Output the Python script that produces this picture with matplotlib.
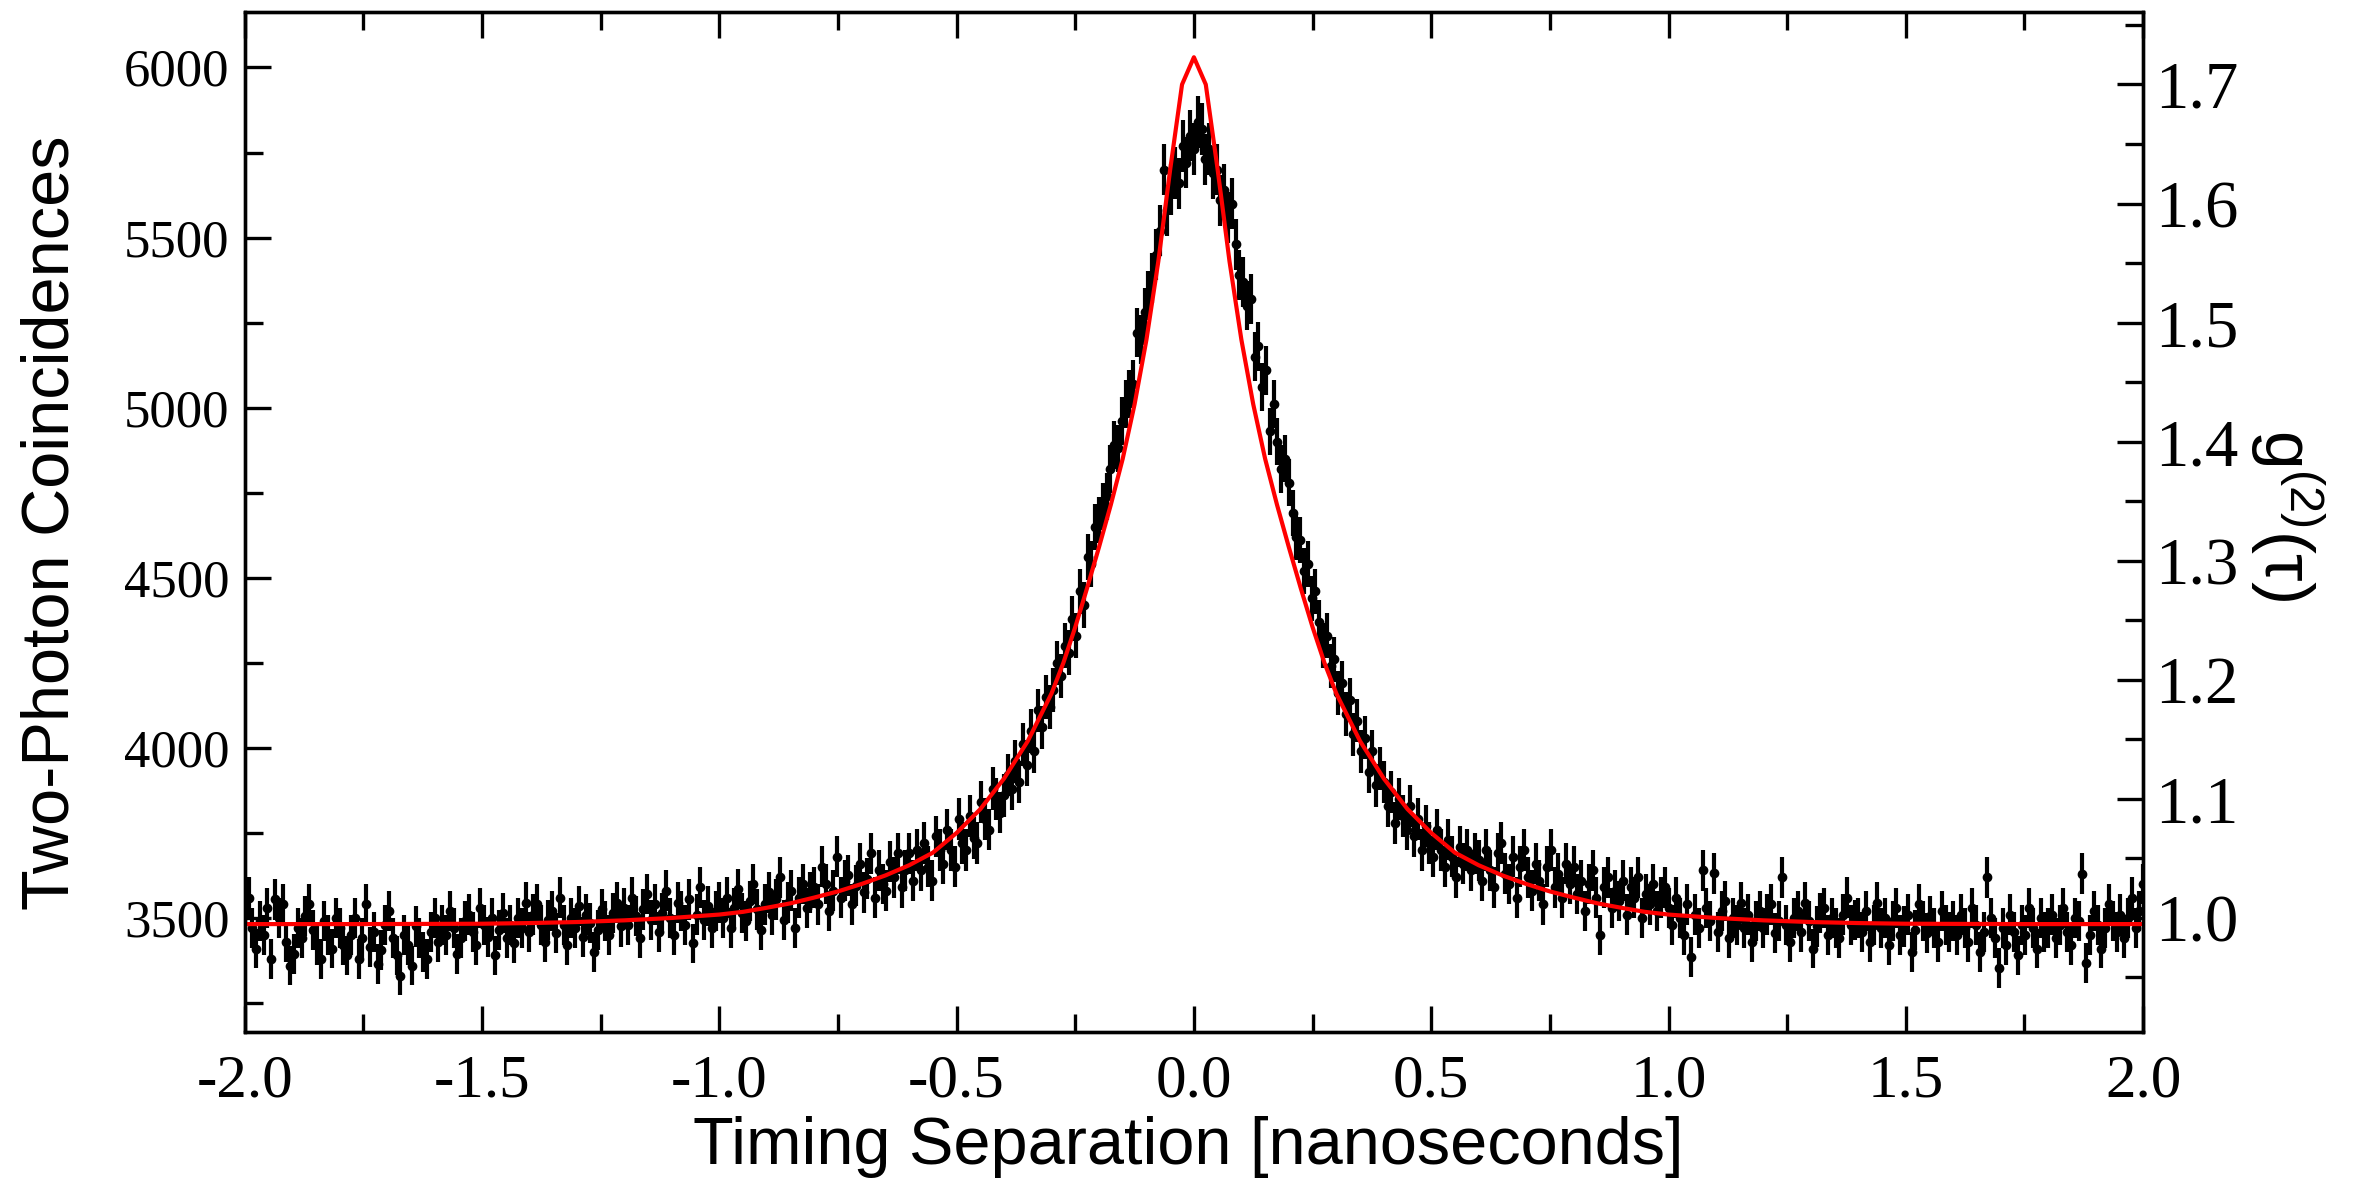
import numpy as np
import matplotlib
matplotlib.use("Agg")
import matplotlib.pyplot as plt
from matplotlib.ticker import MultipleLocator

plt.rcParams['axes.unicode_minus'] = False
plt.rcParams['mathtext.fontset'] = 'custom'
plt.rcParams['mathtext.rm'] = 'Liberation Sans'
plt.rcParams['mathtext.it'] = 'Liberation Sans:italic'

# timing bins (ns), 8 ps wide
t = np.linspace(-2.0, 2.0, 501)

# two-photon coincidences per bin (25 bins per row = 0.2 ns)
counts = [
    3520, 3560, 3470, 3410, 3490, 3450, 3530, 3380, 3555, 3500, 3540, 3430, 3360, 3395, 3470, 3440, 3505, 3540, 3465, 3420, 3380, 3490, 3450, 3410, 3500,
    3470, 3420, 3390, 3450, 3500, 3380, 3440, 3540, 3415, 3460, 3365, 3405, 3480, 3520, 3440, 3390, 3330, 3450, 3420, 3360, 3475, 3440, 3400, 3380, 3460,
    3500, 3430, 3480, 3450, 3520, 3470, 3395, 3440, 3490, 3510, 3460, 3420, 3530, 3480, 3445, 3500, 3390, 3465, 3515, 3440, 3480, 3425, 3500, 3470, 3545,
    3460, 3510, 3540, 3480, 3430, 3495, 3520, 3455, 3560, 3480, 3420, 3500, 3470, 3535, 3445, 3510, 3485, 3400, 3465, 3525, 3490, 3450, 3515, 3545, 3475,
    3530, 3480, 3560, 3505, 3440, 3525, 3570, 3495, 3540, 3460, 3515, 3580, 3500, 3450, 3545, 3520, 3480, 3555, 3425, 3510, 3590, 3495, 3535, 3470, 3520,
    3545, 3500, 3560, 3470, 3530, 3585, 3515, 3490, 3550, 3600, 3525, 3465, 3540, 3575, 3510, 3555, 3620, 3495, 3545, 3580, 3470, 3560, 3600, 3530, 3575,
    3590, 3540, 3650, 3600, 3520, 3580, 3680, 3560, 3610, 3625, 3540, 3595, 3660, 3575, 3615, 3690, 3560, 3640, 3600, 3580, 3665, 3620, 3690, 3590, 3640,
    3690, 3610, 3700, 3640, 3720, 3650, 3610, 3740, 3700, 3660, 3760, 3700, 3650, 3790, 3720, 3700, 3800, 3735, 3720, 3840, 3790, 3760, 3880, 3850, 3810,
    3860, 3920, 3880, 3960, 3900, 4010, 3950, 4050, 3990, 4110, 4060, 4150, 4120, 4170, 4250, 4210, 4300, 4280, 4380, 4330, 4460, 4420, 4560, 4540, 4650,
    4670, 4710, 4740, 4820, 4890, 4880, 4960, 5010, 5040, 5070, 5220, 5200, 5280, 5330, 5380, 5450, 5520, 5700, 5580, 5640, 5690, 5660, 5770, 5720, 5800,
    5760, 5840, 5820, 5730, 5760, 5690, 5700, 5610, 5640, 5560, 5600, 5480, 5390, 5370, 5300, 5320, 5150, 5180, 5060, 5110, 4930, 5010, 4900, 4820, 4850,
    4780, 4690, 4620, 4610, 4520, 4540, 4440, 4460, 4370, 4300, 4330, 4240, 4260, 4160, 4190, 4100, 4140, 4040, 4080, 3990, 4030, 3930, 3990, 3890, 3940,
    3900, 3830, 3870, 3780, 3850, 3800, 3760, 3830, 3740, 3790, 3700, 3770, 3720, 3680, 3760, 3700, 3650, 3730, 3680, 3620, 3710, 3660, 3700, 3640, 3690,
    3670, 3610, 3700, 3640, 3590, 3690, 3720, 3630, 3600, 3680, 3560, 3650, 3700, 3620, 3580, 3660, 3610, 3540, 3650, 3700, 3590, 3630, 3560, 3660, 3600,
    3650, 3570, 3610, 3520, 3600, 3640, 3560, 3450, 3590, 3620, 3530, 3580, 3550, 3610, 3510, 3590, 3560, 3620, 3500, 3570, 3540, 3600, 3520, 3560, 3590,
    3530, 3480, 3560, 3500, 3450, 3540, 3385, 3510, 3470, 3640, 3530, 3490, 3632, 3460, 3520, 3550, 3440, 3500, 3480, 3545, 3470, 3510, 3430, 3490, 3520,
    3470, 3510, 3540, 3455, 3490, 3620, 3480, 3430, 3500, 3520, 3460, 3545, 3490, 3410, 3475, 3515, 3530, 3450, 3500, 3470, 3440, 3510, 3560, 3480, 3495,
    3500, 3460, 3520, 3430, 3480, 3545, 3470, 3500, 3420, 3490, 3530, 3450, 3475, 3510, 3400, 3465, 3540, 3490, 3455, 3505, 3470, 3430, 3520, 3480, 3460,
    3490, 3450, 3510, 3470, 3430, 3530, 3480, 3400, 3460, 3620, 3500, 3440, 3353, 3470, 3420, 3510, 3460, 3390, 3480, 3450, 3530, 3470, 3410, 3500, 3460,
    3470, 3510, 3440, 3480, 3530, 3460, 3420, 3500, 3490, 3630, 3368, 3450, 3520, 3480, 3410, 3470, 3540, 3490, 3460, 3510, 3440, 3500, 3560, 3470, 3520,
    3600,
]

# fitted curve, sampled as in the figure
fit_t = [-2.0, -1.75, -1.5, -1.4, -1.3, -1.2, -1.1, -1.0, -0.95, -0.9, -0.85, -0.8, -0.75, -0.7, -0.65, -0.6,
         -0.55, -0.5, -0.45, -0.4, -0.35, -0.3, -0.275, -0.25, -0.225, -0.2, -0.175, -0.15, -0.125, -0.1,
         -0.075, -0.05, -0.025, 0.0, 0.025, 0.05, 0.075, 0.1, 0.125, 0.15, 0.175, 0.2, 0.225, 0.25, 0.275,
         0.3, 0.35, 0.4, 0.45, 0.5, 0.55, 0.6, 0.65, 0.7, 0.75, 0.8, 0.85, 0.9, 0.95, 1.0, 1.1, 1.2, 1.3,
         1.4, 1.5, 1.75, 2.0]
fit_counts = [3482, 3482, 3483, 3485, 3488, 3493, 3500, 3510, 3518, 3530, 3543, 3560, 3578, 3600, 3625, 3655,
              3692, 3750, 3820, 3910, 4020, 4160, 4250, 4355, 4470, 4590, 4715, 4850, 5010, 5200,
              5430, 5700, 5950, 6030, 5950, 5700, 5430, 5200, 5010, 4850, 4715, 4590, 4470, 4355, 4250,
              4160, 4020, 3910, 3820, 3750, 3692, 3655, 3625, 3600, 3578, 3560, 3543, 3530, 3518, 3510, 3500, 3493, 3488,
              3485, 3483, 3482, 3482]

g2_norm = 3500      # coincidences at g2 = 1
ylim = (3165, 6163)

serif = 'Liberation Serif'
sans = 'Liberation Sans'

fig = plt.figure(figsize=(23.53, 11.78), dpi=100)
ax = fig.add_axes([0.104, 0.124, 0.8068, 0.8658])

counts = np.array(counts, dtype=float)
ax.errorbar(t, counts, yerr=np.sqrt(counts), fmt='o', color='black', ms=6,
            elinewidth=3.0, capsize=0, zorder=2)
ax.plot(fit_t, fit_counts, color='red', lw=3.0, zorder=3)

ax.set_xlim(-2.0, 2.0)
ax.set_ylim(*ylim)
ax.xaxis.set_major_locator(MultipleLocator(0.5))
ax.xaxis.set_minor_locator(MultipleLocator(0.25))
ax.yaxis.set_major_locator(MultipleLocator(500))
ax.yaxis.set_minor_locator(MultipleLocator(250))
ax.set_xticklabels([f'{v:.1f}' for v in ax.get_xticks()])

ax2 = ax.twinx()
ax2.set_ylim(ylim[0] / g2_norm, ylim[1] / g2_norm)
ax2.yaxis.set_major_locator(MultipleLocator(0.1))
ax2.yaxis.set_minor_locator(MultipleLocator(0.05))
ax2.set_yticklabels([f'{v:.1f}' for v in ax2.get_yticks()])

ax.tick_params(axis='x', which='both', direction='in', top=True, bottom=True, width=2.4, pad=16)
ax.tick_params(axis='y', which='both', direction='in', left=True, right=False, width=2.4, pad=11)
ax.tick_params(which='major', length=19)
ax.tick_params(which='minor', length=13)
ax2.tick_params(axis='y', which='both', direction='in', width=2.4, pad=9)
ax2.tick_params(which='major', length=19)
ax2.tick_params(which='minor', length=13)

for lab in ax.get_xticklabels():
    lab.set_fontfamily(serif)
    lab.set_fontsize(44)
for lab in ax.get_yticklabels():
    lab.set_fontfamily(serif)
    lab.set_fontsize(38)
for lab in ax2.get_yticklabels():
    lab.set_fontfamily(serif)
    lab.set_fontsize(48)
for a in (ax, ax2):
    for s in a.spines.values():
        s.set_linewidth(2.4)

fig.text(0.022, 0.556, 'Two-Photon Coincidences', rotation=90, ha='center', va='center',
         fontsize=48, family=sans)
fig.text(0.505, 0.026, 'Timing Separation [nanoseconds]', ha='center', va='center',
         fontsize=48, family=sans)
fig.text(0.972, 0.563, r'g$^{(2)}$(τ)', rotation=-90, ha='center', va='center',
         fontsize=50, family=sans)

fig.savefig('out.png', dpi=100)
